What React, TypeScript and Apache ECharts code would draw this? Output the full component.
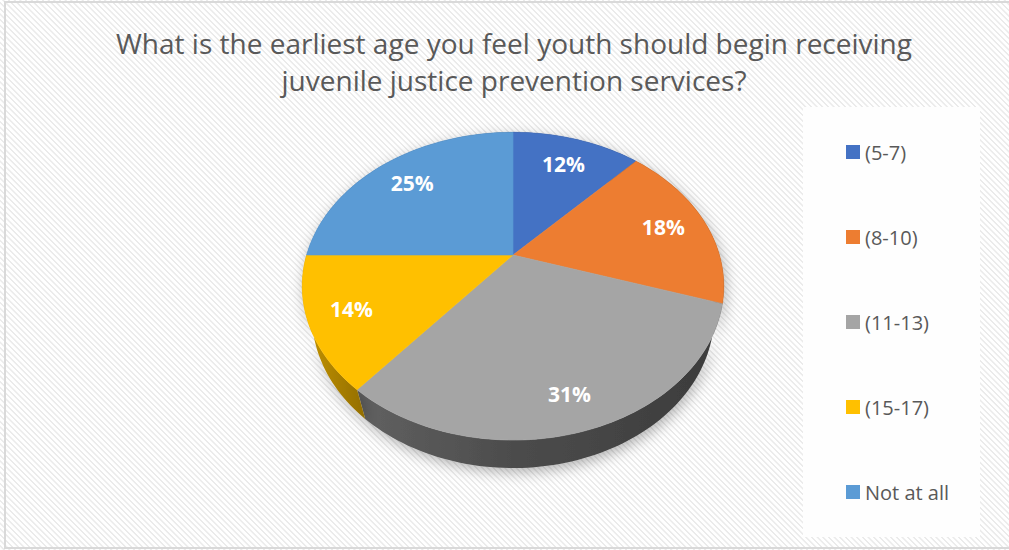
import React, { useEffect, useRef } from "react";
import * as echarts from "echarts";

const titleLines = [
  "What is the earliest age you feel youth should begin receiving",
  "juvenile justice prevention services?",
];
const categories = ["(5-7)", "(8-10)", "(11-13)", "(15-17)", "Not at all"];
const values = [12, 18, 31, 14, 25];
const colors = ["#4472C4", "#ED7D31", "#A5A5A5", "#FFC000", "#5B9BD5"];

// projection of a tilted 3D disc (perspective)
const CX = 513;
const CY = 255;
const F = 712;
const D = 3.45;
const S = 0.715;
const C = Math.sqrt(1 - S * S);
const H = 0.223;

function proj(theta: number, rho: number, Y: number): number[] {
  const x = rho * Math.sin(theta);
  const z = rho * Math.cos(theta);
  const yc = z * S + Y * C;
  const depth = D + z * C - Y * S;
  return [CX + (F * x) / depth, CY - (F * yc) / depth];
}

function shade(hex: string, f: number): string {
  const n = parseInt(hex.slice(1), 16);
  const r = Math.round(((n >> 16) & 255) * f);
  const g = Math.round(((n >> 8) & 255) * f);
  const b = Math.round((n & 255) * f);
  return `rgb(${r},${g},${b})`;
}

const total = values.reduce((a, b) => a + b, 0);
function angles(i: number): [number, number] {
  let s = 0;
  for (let k = 0; k < i; k++) s += values[k];
  const a0 = (s / total) * Math.PI * 2;
  const a1 = ((s + values[i]) / total) * Math.PI * 2;
  return [a0, a1];
}

function arcPoints(a0: number, a1: number, Y: number): number[][] {
  const n = Math.max(4, Math.ceil(((a1 - a0) / (Math.PI * 2)) * 240));
  const pts: number[][] = [];
  for (let k = 0; k <= n; k++) {
    pts.push(proj(a0 + ((a1 - a0) * k) / n, 1, Y));
  }
  return pts;
}

export default function App() {
  const ref = useRef<HTMLDivElement>(null);
  useEffect(() => {
    if (!ref.current) return;
    const chart = echarts.init(ref.current, undefined, { renderer: "svg" });
    const font = "'Open Sans', sans-serif";

    const wallItem = (params: any) => {
      const i = params.dataIndex;
      const [a0, a1] = angles(i);
      const top = arcPoints(a0, a1, 0);
      const bottom = arcPoints(a0, a1, -H).reverse();
      const c = colors[i];
      return {
        type: "polygon",
        shape: { points: top.concat(bottom) },
        style: {
          fill: new echarts.graphic.LinearGradient(
            300,
            0,
            726,
            0,
            [
              { offset: 0, color: shade(c, 0.78) },
              { offset: 0.15, color: shade(c, 0.58) },
              { offset: 0.5, color: shade(c, 0.46) },
              { offset: 1, color: shade(c, 0.36) },
            ],
            true
          ),
          shadowBlur: 14,
          shadowColor: "rgba(0,0,0,0.3)",
          shadowOffsetY: 4,
          shadowOffsetX: 2,
        },
      };
    };

    const topItem = (params: any) => {
      const i = params.dataIndex;
      const [a0, a1] = angles(i);
      const pts = [proj(0, 0, 0)].concat(arcPoints(a0, a1, 0));
      const mid = (a0 + a1) / 2;
      // label placed at a fraction of the projected centre-to-rim distance
      const rim = proj(mid, 1, 0);
      const f = 0.79;
      const lp = [CX + (rim[0] - CX) * f, CY + (rim[1] - CY) * f];
      return {
        type: "group",
        children: [
          {
            type: "polygon",
            shape: { points: pts },
            style: { fill: colors[i], stroke: colors[i], lineWidth: 0.6 },
          },
          {
            type: "text",
            x: lp[0],
            y: lp[1],
            style: {
              text: Math.round((values[i] / total) * 100) + "%",
              fill: "#ffffff",
              font: `bold 21px ${font}`,
              textAlign: "center",
              textVerticalAlign: "middle",
            },
          },
        ],
      };
    };

    chart.setOption({
      animation: false,
      color: colors,
      legend: {
        orient: "vertical",
        left: 841,
        top: 137,
        itemWidth: 14,
        itemHeight: 14,
        itemGap: 65,
        icon: "rect",
        data: categories,
        textStyle: { color: "#595959", fontSize: 20, fontFamily: font },
        selectedMode: false,
      },
      graphic: [
        {
          type: "rect",
          silent: true,
          z: -10,
          shape: { x: 5, y: 2, width: 1020, height: 546 },
          style: { fill: "none", stroke: "#d9d9d9", lineWidth: 2 },
        },
        {
          type: "rect",
          silent: true,
          z: -5,
          shape: { x: 803, y: 107, width: 177, height: 430 },
          style: { fill: "#fefefe" },
        },
        {
          type: "text",
          x: 514,
          y: 24,
          style: {
            text: titleLines.join("\n"),
            textAlign: "center",
            textVerticalAlign: "top",
            font: `28px ${font}`,
            lineHeight: 37,
            fill: "#595959",
          },
        },
      ],
      series: [
        {
          type: "custom",
          name: "walls",
          coordinateSystem: "none",
          z: 1,
          silent: true,
          renderItem: wallItem,
          data: values.map((v) => [v]),
        },
        {
          type: "custom",
          name: "tops",
          coordinateSystem: "none",
          z: 2,
          silent: true,
          renderItem: topItem,
          data: values.map((v) => [v]),
        },
        {
          type: "pie",
          name: "legendSource",
          center: [-200, -200],
          radius: 1,
          silent: true,
          label: { show: false },
          labelLine: { show: false },
          data: categories.map((n, i) => ({ name: n, value: values[i] })),
        },
      ],
    });
    return () => chart.dispose();
  }, []);

  return (
    <div
      ref={ref}
      style={{
        position: "absolute",
        left: 0,
        top: 0,
        width: 1009,
        height: 550,
        background:
          "repeating-linear-gradient(45deg, #ffffff 0px, #ffffff 2px, #ebebeb 2.5px, #ebebeb 3.5px, #ffffff 4px)",
      }}
    />
  );
}
